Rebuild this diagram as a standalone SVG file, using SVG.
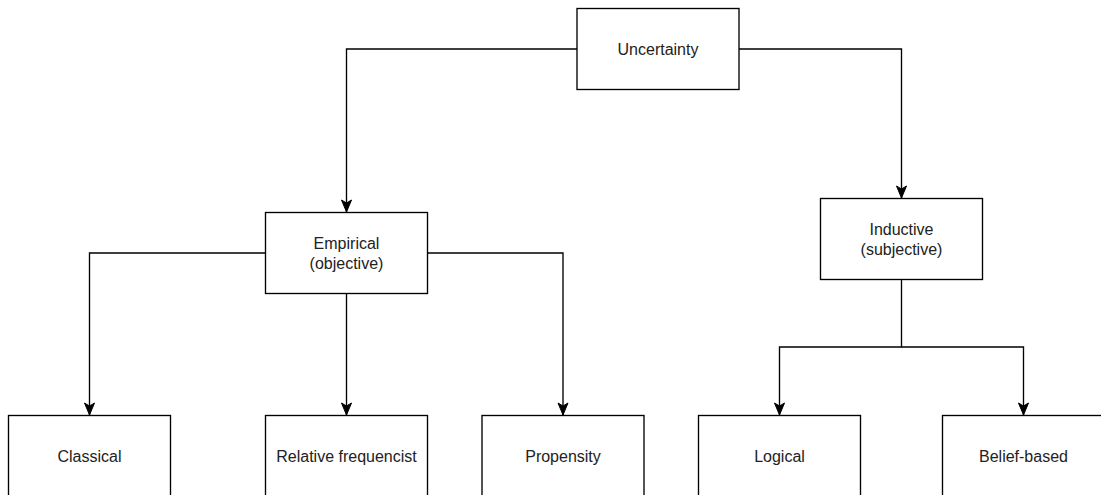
<svg xmlns="http://www.w3.org/2000/svg" width="1101" height="495" viewBox="0 0 1101 495">
<style>
.box{fill:#fff;stroke:#000;stroke-width:1.35}
.lbl{font-family:"Liberation Sans",Arial,sans-serif;font-size:16px;fill:#222;text-anchor:middle}
.edge{fill:none;stroke:#000;stroke-width:1.35}
</style>
<defs>
<marker id="arr" markerUnits="userSpaceOnUse" markerWidth="14" markerHeight="14" viewBox="0 0 14 14" refX="13" refY="7" orient="auto">
<path d="M1,2 L13,7 L1,12 L4,7 Z" fill="#000" stroke="#000" stroke-width="1"/>
</marker>
</defs>
<rect width="1101" height="495" fill="#fff"/>
<g id="connectors">
<path class="edge" d="M577,49 H346.5 V212" marker-end="url(#arr)"/>
<path class="edge" d="M739,49 H901.5 V198" marker-end="url(#arr)"/>
<path class="edge" d="M265.5,253 H89.5 V415" marker-end="url(#arr)"/>
<path class="edge" d="M346.5,293.5 V415" marker-end="url(#arr)"/>
<path class="edge" d="M427.5,253 H563 V415" marker-end="url(#arr)"/>
<path class="edge" d="M901.5,279.5 V347 H779.5 V415" marker-end="url(#arr)"/>
<path class="edge" d="M901.5,347 H1023.5 V415" marker-end="url(#arr)"/>
</g>
<g id="uncertainty"><rect class="box" x="577" y="8.5" width="162" height="81"/><text class="lbl" x="658" y="54.5">Uncertainty</text></g>
<g id="empirical"><rect class="box" x="265.5" y="212.5" width="162" height="81"/><text class="lbl" x="346.5" y="249">Empirical</text><text class="lbl" x="346.5" y="268.5">(objective)</text></g>
<g id="inductive"><rect class="box" x="820.5" y="198.5" width="162" height="81"/><text class="lbl" x="901.5" y="235">Inductive</text><text class="lbl" x="901.5" y="254.5">(subjective)</text></g>
<g id="classical"><rect class="box" x="8.5" y="415.5" width="162" height="81"/><text class="lbl" x="89.5" y="461.5">Classical</text></g>
<g id="relative"><rect class="box" x="265.5" y="415.5" width="162" height="81"/><text class="lbl" x="346.5" y="461.5">Relative frequencist</text></g>
<g id="propensity"><rect class="box" x="482" y="415.5" width="162" height="81"/><text class="lbl" x="563" y="461.5">Propensity</text></g>
<g id="logical"><rect class="box" x="698.5" y="415.5" width="162" height="81"/><text class="lbl" x="779.5" y="461.5">Logical</text></g>
<g id="belief"><rect class="box" x="942.5" y="415.5" width="162" height="81"/><text class="lbl" x="1023.5" y="461.5">Belief-based</text></g>
</svg>
